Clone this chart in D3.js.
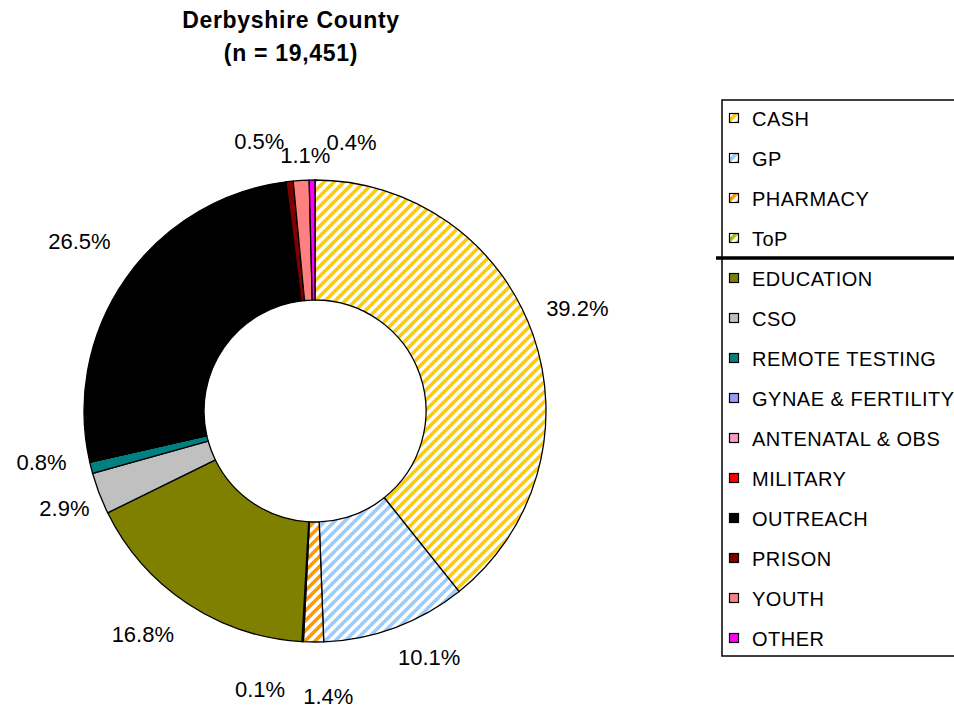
<!DOCTYPE html>
<html><head><meta charset="utf-8">
<script src="https://cdn.jsdelivr.net/npm/d3@7"></script>
<style>body{margin:0;background:#fff;} svg{display:block;}</style>
</head><body>
<svg id="chart" width="954" height="708"></svg>
<script>
const categories = ["CASH","GP","PHARMACY","ToP","EDUCATION","CSO","REMOTE TESTING","GYNAE & FERTILITY","ANTENATAL & OBS","MILITARY","OUTREACH","PRISON","YOUTH","OTHER"];
const values = [39.2,10.1,1.4,0.1,16.8,2.9,0.8,0,0,0,26.5,0.5,1.1,0.4];
const colors = ["#FFCC00","#99CCFF","#FF9900","#99CC00","#808000","#C0C0C0","#008080","#9999FF","#FF99CC","#FF0000","#000000","#800000","#FF8080","#FF00FF"];
const hatched = [true,true,true,true,false,false,false,false,false,false,false,false,false,false];
const titleLines = ["Derbyshire County","(n = 19,451)"];

// label nudges (layout only)
const labelNudge = {"CASH":[-1,-10],"GP":[17,-15],"PHARMACY":[15,7],"ToP":[-40,0],"EDUCATION":[-18,-9],"CSO":[10,-2],"REMOTE TESTING":[-3,-17],"OUTREACH":[-7,-10],"PRISON":[-25,8],"YOUTH":[7,23],"OTHER":[40,10]};

const svg = d3.select("#chart");
const defs = svg.append("defs");
colors.forEach((c,i)=>{
  if(!hatched[i]) return;
  const p = defs.append("pattern").attr("id","hatch"+i).attr("patternUnits","userSpaceOnUse")
    .attr("width",10).attr("height",10);
  p.append("rect").attr("width",10).attr("height",10).attr("fill","#fff");
  p.append("path").attr("d","M-2,12 L12,-2 M-7,7 L7,-7 M3,17 L17,3").attr("stroke",c).attr("stroke-width",3.6);
});
const fillOf = i => hatched[i] ? `url(#hatch${i})` : colors[i];

const cx = 315, cy = 411, R = 231, r0 = 111;
const g = svg.append("g").attr("transform",`translate(${cx},${cy})`);
const pie = d3.pie().sort(null).value(d=>d)(values);
const arc = d3.arc().innerRadius(r0).outerRadius(R);
g.selectAll("path.slice").data(pie).join("path").attr("class","slice")
  .attr("d",arc).attr("fill",(d,i)=>fillOf(i)).attr("stroke","#000").attr("stroke-width",1.3);

const labelArc = d3.arc().innerRadius(279).outerRadius(279);
const labels = g.append("g").style("font-family","Liberation Sans, Arial, sans-serif").style("font-size","22px");
pie.forEach((d,i)=>{
  if(values[i] <= 0) return;
  const [x,y] = labelArc.centroid(d);
  const n = labelNudge[categories[i]] || [0,0];
  labels.append("text").attr("x",x+n[0]).attr("y",y+n[1]).attr("text-anchor","middle").attr("dominant-baseline","central")
    .attr("fill","#000").text(values[i].toFixed(1)+"%");
});

// Title
const t = svg.append("text").attr("text-anchor","middle").style("font-family","Liberation Sans, Arial, sans-serif")
  .style("font-weight","bold").style("font-size","23px").style("letter-spacing","0.7px");
titleLines.forEach((s,i)=>t.append("tspan").attr("x",291).attr("y",28+i*33).text(s));

// Legend
const lx = 722, ly = 100, lw = 260, lh = 556;
const leg = svg.append("g");
leg.append("rect").attr("x",lx).attr("y",ly).attr("width",lw).attr("height",lh).attr("fill","#fff").attr("stroke","#000").attr("stroke-width",1.5);
const ys = d3.scalePoint().domain(categories).range([118,638]);
categories.forEach((c,i)=>{
  const y = ys(c);
  leg.append("rect").attr("x",729.5).attr("y",y-4.5).attr("width",9).attr("height",9)
    .attr("fill",fillOf(i)).attr("stroke","#000").attr("stroke-width",1.2);
  leg.append("text").attr("x",752).attr("y",y+1).attr("dominant-baseline","central")
    .style("font-family","Liberation Sans, Arial, sans-serif").style("font-size","20px").style("letter-spacing","0.5px")
    .text(c);
});
const sepY = (ys("ToP")+ys("EDUCATION"))/2;
leg.append("line").attr("x1",716).attr("x2",954).attr("y1",sepY).attr("y2",sepY)
  .attr("stroke","#000").attr("stroke-width",3.5);
</script>
</body></html>
